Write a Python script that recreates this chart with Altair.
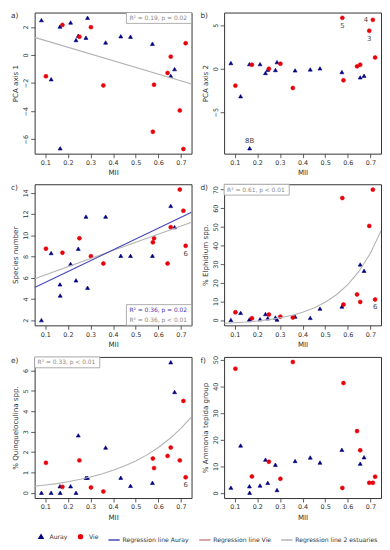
import altair as alt
import pandas as pd

# ---------------- data ----------------
MII_AURAY = [0.083, 0.126, 0.165, 0.166, 0.212, 0.236, 0.246, 0.280, 0.287,
             0.367, 0.434, 0.477, 0.574, 0.655, 0.672]
MII_VIE = [0.103, 0.176, 0.251, 0.302, 0.357, 0.576, 0.581, 0.641, 0.655,
           0.695, 0.711, 0.721]

PCA1_AURAY = [2.48, -1.73, 2.02, -6.65, 2.31, 1.06, 1.37, 1.23, 2.65, 0.89,
              1.33, 1.30, 0.80, -1.49, -1.01]
PCA1_VIE = [-1.52, 2.14, 1.30, 1.98, -2.17, -5.47, -2.12, -1.28, -0.12,
            -3.95, -6.70, 0.84]
PCA2_AURAY = [0.65, -3.16, 0.53, -9.13, 0.53, -0.49, -0.11, -0.15, 0.76,
              -0.19, -0.08, 0.04, -0.38, -0.99, -0.80]
PCA2_VIE = [-1.94, 0.46, 0.00, 0.57, -2.21, 5.84, -1.33, 0.27, 0.46, 4.35,
            5.61, 1.29]
SPECIES_AURAY = [2.0, 8.32, 5.37, 4.32, 7.30, 5.75, 8.73, 11.75, 5.05, 11.75,
                 8.06, 8.06, 8.06, 12.76, 10.76]
SPECIES_VIE = [8.73, 8.35, 9.71, 8.03, 7.33, 9.33, 9.71, 7.33, 10.76, 14.3,
               12.3, 9.0]
ELPH_AURAY = [0.0, 3.8, 0.3, 0.0, 0.4, 3.2, 0.9, 1.3, 0.2, 1.8, 1.1, 6.1,
              7.2, 29.8, 26.4]
ELPH_VIE = [4.15, 0.9, 2.9, 1.8, 1.3, 65.5, 8.3, 13.7, 9.7, 50.5, 70.0, 11.0]
QUIN_AURAY = [0.0, 0.0, 0.32, 0.0, 0.32, 0.0, 2.82, 0.74, 0.74, 2.22, 0.74,
              0.34, 0.49, 6.41, 4.95]
QUIN_VIE = [1.47, 0.29, 1.59, 0.26, 0.06, 1.68, 1.21, 1.81, 2.22, 1.59, 4.51,
            0.76]
AMMO_AURAY = [2.0, 17.8, 2.5, 0.1, 2.8, 12.5, 3.8, 10.6, 1.1, 12.0, 13.3,
              11.4, 16.2, 11.0, 13.4]
AMMO_VIE = [46.6, 6.2, 11.7, 5.3, 49.1, 1.9, 41.2, 23.2, 16.0, 3.8, 3.8, 6.1]

# regression lines / curves
LINE_X = [0.053, 0.747]
REG_A_ALL = [1.25, -2.07]
REG_C_AURAY = [5.07, 12.17]
REG_C_ALL = [5.91, 11.23]
CURVE_X = [0.053, 0.1, 0.15, 0.2, 0.25, 0.3, 0.35, 0.4, 0.45, 0.5, 0.55,
           0.6, 0.65, 0.7, 0.747]
CURVE_D = [-1.78, -1.50, -1.09, -0.54, 0.18, 1.15, 2.44, 4.15, 6.44, 9.49,
           13.56, 18.98, 26.21, 35.84, 47.8]
CURVE_E = [0.32, 0.38, 0.45, 0.54, 0.65, 0.77, 0.92, 1.10, 1.31, 1.56, 1.86,
           2.22, 2.65, 3.16, 3.73]

STATS_A = ["R² = 0.19, p = 0.02"]
STATS_C = ["R² = 0.36, p = 0.02", "R² = 0.36, p < 0.01"]
STATS_D = ["R² = 0.61, p < 0.01"]
STATS_E = ["R² = 0.33, p < 0.01"]

SERIES = ["Auray", "Vie", "Regression line Auray", "Regression line Vie",
          "Regression line 2 estuaries"]
COLORS = ["#00007f", "#e8000b", "#4646b8", "#c98585", "#b3b3b3"]
SHAPES = ["triangle-up", "circle", "stroke", "stroke", "stroke"]
SIZES = [16, 16, 130, 130, 130]

X_DOMAIN = [0.053, 0.747]
X_TICKS = [0.1, 0.2, 0.3, 0.4, 0.5, 0.6, 0.7]

W, H = 159, 143
FONT = "DejaVu Sans"
TXT = "#333333"


# ---------------- helpers ----------------
def xenc():
    return alt.X("MII:Q", scale=alt.Scale(domain=X_DOMAIN, nice=False, zero=False),
                 axis=alt.Axis(title="MII", values=X_TICKS, format=".1f",
                               titleColor=TXT, labelColor=TXT))


def yenc(title, dom, ticks):
    return alt.Y("value:Q", scale=alt.Scale(domain=dom, nice=False, zero=False),
                 axis=alt.Axis(title=title, values=ticks, labelAngle=270,
                               labelAlign="center", labelBaseline="bottom",
                               titleColor=TXT, labelColor=TXT))


def color_enc():
    return alt.Color("series:N", scale=alt.Scale(domain=SERIES, range=COLORS), title="")


def points_layer(auray, vie, ye):
    df = pd.DataFrame({
        "MII": MII_AURAY + MII_VIE,
        "value": auray + vie,
        "series": ["Auray"] * len(auray) + ["Vie"] * len(vie),
    })
    return alt.Chart(df).mark_point(filled=True, opacity=1, strokeWidth=0.6).encode(
        x=xenc(), y=ye, color=color_enc(),
        stroke=alt.Stroke("series:N", scale=alt.Scale(domain=SERIES, range=COLORS), title=""),
        shape=alt.Shape("series:N", scale=alt.Scale(domain=SERIES, range=SHAPES), title=""),
        size=alt.Size("series:N", scale=alt.Scale(type="ordinal", domain=SERIES, range=SIZES),
                      title=""),
    )


def line_layer(xs, ys, series, ye):
    df = pd.DataFrame({"MII": xs, "value": ys, "series": [series] * len(xs)})
    return alt.Chart(df).mark_line(strokeWidth=1.1, clip=True).encode(
        x=xenc(), y=ye, color=color_enc())


def label_layer(items, ye):
    # items: (text, series, index, position, MII, value)
    offsets = {"below": (0, 8), "above": (0, -7), "left": (-7, 0)}
    layers = []
    for pos, (dx, dy) in offsets.items():
        rows = [r for r in items if r[3] == pos]
        if not rows:
            continue
        df = pd.DataFrame({
            "MII": [r[4] for r in rows],
            "value": [r[5] for r in rows],
            "label": [r[0] for r in rows],
        })
        layers.append(alt.Chart(df).mark_text(dx=dx, dy=dy, fontSize=7, font=FONT,
                                               color="#444444").encode(
            x=xenc(), y=ye, text="label:N"))
    return layers


def stats_box(lines, colors, side):
    bw = 66
    bh = 10 * len(lines) + 1
    if side == "topright":
        x0, y0 = W - bw, 0
    elif side == "topleft":
        x0, y0 = 0, 0
    else:  # bottomright
        x0, y0 = W - bw, H - bh
    box = alt.Chart(pd.DataFrame({"k": [0]})).mark_rect(
        fill="white", stroke="#9a9a9a", strokeWidth=0.8).encode(
        x=alt.value(x0), x2=alt.value(x0 + bw), y=alt.value(y0), y2=alt.value(y0 + bh))
    layers = [box]
    for i, (t, c) in enumerate(zip(lines, colors)):
        layers.append(alt.Chart(pd.DataFrame({"t": [t]})).mark_text(
            align="left", baseline="middle", fontSize=6, font=FONT, color=c).encode(
            x=alt.value(x0 + 3), y=alt.value(y0 + 5.5 + 10 * i), text="t:N"))
    return layers


def tag_layer(tag):
    return alt.Chart(pd.DataFrame({"t": [tag]})).mark_text(
        align="left", baseline="top", fontSize=7.5, font=FONT, color=TXT).encode(
        x=alt.value(-24), y=alt.value(0), text="t:N")


def item(text, series, idx, pos, vals_a, vals_v):
    if series == "Auray":
        return (text, series, idx, pos, MII_AURAY[idx], vals_a[idx])
    return (text, series, idx, pos, MII_VIE[idx], vals_v[idx])


# ---------------- panels ----------------
ya = yenc("PCA axis 1", [-7.03, 3.02], [-6, -4, -2, 0, 2])
pa = alt.layer(
    points_layer(PCA1_AURAY, PCA1_VIE, ya),
    line_layer(LINE_X, REG_A_ALL, "Regression line 2 estuaries", ya),
    *stats_box(STATS_A, ["#888888"], "topright"),
    tag_layer("a)"),
).properties(width=W, height=H)

yb = yenc("PCA axis 2", [-9.75, 6.45], [-5, 0, 5])
b_items = [
    item("5", "Vie", 5, "below", PCA2_AURAY, PCA2_VIE),
    item("3", "Vie", 9, "below", PCA2_AURAY, PCA2_VIE),
    item("4", "Vie", 10, "left", PCA2_AURAY, PCA2_VIE),
    item("8B", "Auray", 3, "above", PCA2_AURAY, PCA2_VIE),
]
pb = alt.layer(
    points_layer(PCA2_AURAY, PCA2_VIE, yb),
    *label_layer(b_items, yb),
    tag_layer("b)"),
).properties(width=W, height=H)

yc = yenc("Species number", [1.51, 14.8], [2, 4, 6, 8, 10, 12, 14])
pc = alt.layer(
    points_layer(SPECIES_AURAY, SPECIES_VIE, yc),
    line_layer(LINE_X, REG_C_ALL, "Regression line 2 estuaries", yc),
    line_layer(LINE_X, REG_C_AURAY, "Regression line Auray", yc),
    *label_layer([item("6", "Vie", 11, "below", SPECIES_AURAY, SPECIES_VIE)], yc),
    *stats_box(STATS_C, ["#3c3cb0", "#888888"], "bottomright"),
    tag_layer("c)"),
).properties(width=W, height=H)

yd = yenc("% Elphidium spp.", [-2.9, 72.9], [0, 10, 20, 30, 40, 50, 60, 70])
pd_ = alt.layer(
    points_layer(ELPH_AURAY, ELPH_VIE, yd),
    line_layer(CURVE_X, CURVE_D, "Regression line 2 estuaries", yd),
    *label_layer([item("6", "Vie", 11, "below", ELPH_AURAY, ELPH_VIE)], yd),
    *stats_box(STATS_D, ["#888888"], "topleft"),
    tag_layer("d)"),
).properties(width=W, height=H)

ye = yenc("% Quinqueloculina spp.", [-0.26, 6.67], [0, 1, 2, 3, 4, 5, 6])
pe = alt.layer(
    points_layer(QUIN_AURAY, QUIN_VIE, ye),
    line_layer(CURVE_X, CURVE_E, "Regression line 2 estuaries", ye),
    *label_layer([item("6", "Vie", 11, "below", QUIN_AURAY, QUIN_VIE)], ye),
    *stats_box(STATS_E, ["#888888"], "topleft"),
    tag_layer("e)"),
).properties(width=W, height=H)

yf = yenc("% Ammonia tepida group", [-1.9, 51.0], [0, 10, 20, 30, 40, 50])
pf = alt.layer(
    points_layer(AMMO_AURAY, AMMO_VIE, yf),
    tag_layer("f)"),
).properties(width=W, height=H)

chart = alt.vconcat(
    alt.hconcat(pa, pb, spacing=7),
    alt.hconcat(pc, pd_, spacing=7),
    alt.hconcat(pe, pf, spacing=7),
    spacing=6,
).properties(
    padding={"left": 2, "top": 0, "right": 0, "bottom": 0}
).configure_view(
    stroke="#333333", strokeWidth=1
).configure_axis(
    domain=False, grid=False, tickSize=4, tickColor=TXT, tickWidth=0.8,
    labelFont=FONT, labelFontSize=6.5, labelColor=TXT, labelPadding=2,
    titleFont=FONT, titleFontSize=7.2, titleFontWeight="normal", titleColor=TXT,
    titlePadding=3,
).configure_legend(
    orient="bottom", direction="horizontal", columns=5, gridAlign="none",
    labelFont=FONT, labelFontSize=6.2, labelColor=TXT, symbolStrokeWidth=1.5,
    columnPadding=6, offset=12, labelLimit=300, padding=0, titlePadding=0,
    titleFontSize=1, labelOffset=2,
)

chart.save("out.html", embed_options={"renderer": "svg", "actions": False})
